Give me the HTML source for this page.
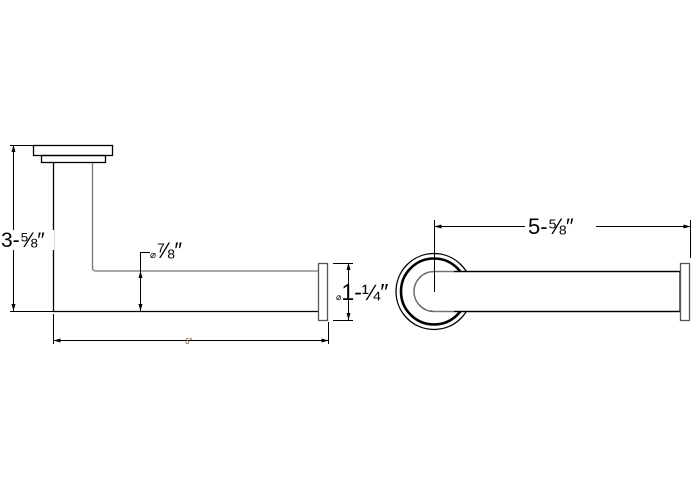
<!DOCTYPE html>
<html><head><style>html,body{margin:0;padding:0;background:#fff;width:700px;height:500px;overflow:hidden}</style></head>
<body>
<svg width="700" height="500" viewBox="0 0 700 500" xmlns="http://www.w3.org/2000/svg" font-family="Liberation Sans, sans-serif">
<g fill="none" stroke="#000" stroke-width="1.3">
<rect x="33.5" y="145.5" width="79" height="10" fill="#fff"/>
<rect x="41.5" y="155.5" width="64" height="7"/>
<line x1="53.5" y1="163" x2="53.5" y2="311"/>
<path d="M92.5 163 V268 Q92.5 271 96 271 H318" stroke="#777"/>
<line x1="53" y1="311.5" x2="318" y2="311.5"/>
<rect x="318.5" y="263.5" width="9" height="57" stroke="#555"/>
<g stroke-width="1">
<line x1="13.5" y1="145" x2="13.5" y2="311"/>
<line x1="10" y1="145.5" x2="33" y2="145.5"/>
<line x1="10" y1="311.5" x2="53" y2="311.5"/>
<line x1="140.5" y1="252" x2="140.5" y2="311"/>
<line x1="140" y1="252.5" x2="150" y2="252.5"/>
<line x1="348.5" y1="263" x2="348.5" y2="320"/>
<line x1="333" y1="263.5" x2="353" y2="263.5"/>
<line x1="333" y1="320.5" x2="353" y2="320.5"/>
<line x1="53.5" y1="314" x2="53.5" y2="344"/>
<line x1="328.5" y1="322" x2="328.5" y2="344"/>
<line x1="53" y1="340.5" x2="328" y2="340.5"/>
</g>
<circle cx="434" cy="291.5" r="38"/>
<circle cx="434" cy="291.5" r="33" stroke-width="2.6"/>
<path d="M680 271.5 H434 A20 20 0 0 0 434 311.5 H680 Z" fill="#fff"/>
<path d="M680 271.5 H434 A20 20 0 0 0 434 311.5 H680" stroke="#999" stroke-width="0.8"/>
<line x1="454" y1="271.5" x2="680" y2="271.5"/>
<line x1="454" y1="311.5" x2="680" y2="311.5"/>
<rect x="680.5" y="263.5" width="9" height="57" stroke="#555"/>
<g stroke-width="1">
<line x1="434.5" y1="220" x2="434.5" y2="292"/>
<line x1="690.5" y1="220" x2="690.5" y2="258"/>
<line x1="434" y1="226.5" x2="525" y2="226.5"/>
<line x1="596" y1="226.5" x2="690" y2="226.5"/>
</g>
</g>
<g fill="#000">
<path d="M13.5 145 l-2 7 h4z"/><path d="M13.5 311 l-2 -7 h4z"/>
<path d="M140.5 271 l-2 7 h4z"/><path d="M140.5 311 l-2 -7 h4z"/>
<path d="M348.5 263 l-2 7 h4z"/><path d="M348.5 320 l-2 -7 h4z"/>
<path d="M53.5 340.5 l7 -2 v4z"/><path d="M328.5 340.5 l-7 -2 v4z"/>
<path d="M434.5 226.5 l7 -2 v4z"/><path d="M690.5 226.5 l-7 -2 v4z"/>
</g>
<g fill="#000">
<rect x="4" y="230" width="50" height="20" fill="#fff"/>
<text x="1" y="247" font-size="21">3-<tspan font-size="21">⅝</tspan>″</text>
<text x="150" y="258" font-size="10">⌀<tspan font-size="22">⅞″</tspan></text>
<text x="336" y="300" font-size="9">⌀<tspan font-size="23">1-<tspan font-size="22">¼</tspan>″</tspan></text>
<text x="185" y="344" font-size="8" fill="#6a4a10">6"</text>
<text x="528" y="234" font-size="22">5-<tspan font-size="22">⅝</tspan>″</text>
</g>
</svg>
</body></html>
